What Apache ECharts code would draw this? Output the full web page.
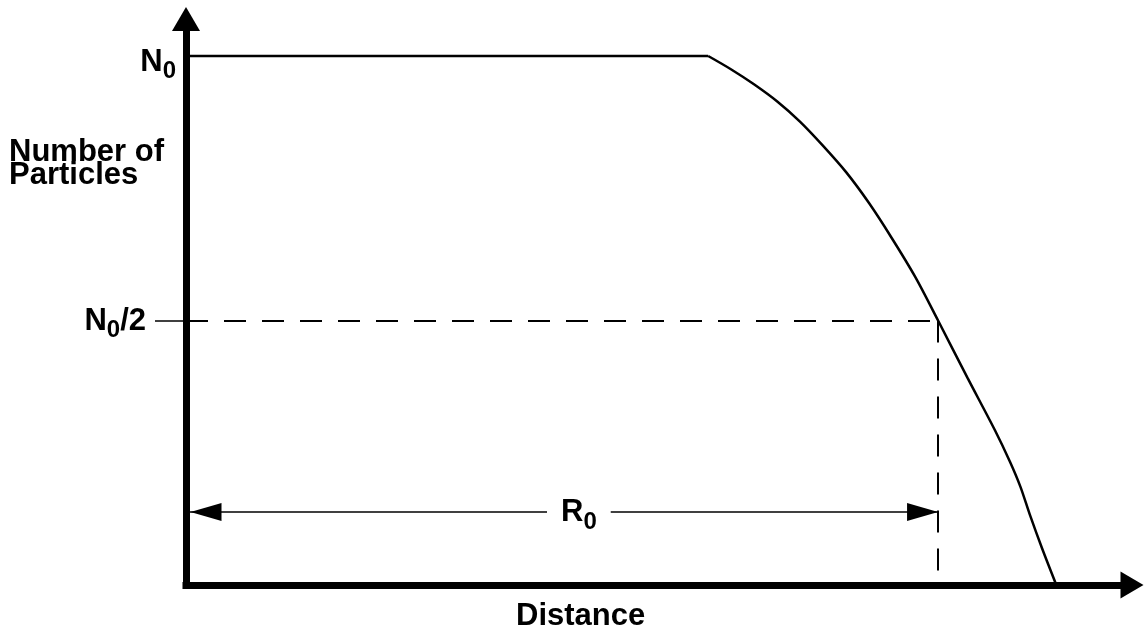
<!DOCTYPE html>
<html>
<head>
<meta charset="utf-8">
<script src="https://cdn.jsdelivr.net/npm/echarts@6/dist/echarts.min.js"></script>
<style>
  html, body { margin: 0; padding: 0; background: #fff; }
  #chart { width: 1146px; height: 632px; }
</style>
</head>
<body>
<div id="chart"></div>
<script>
var N0 = 100;          // full particle count
var HALF = 50;         // N0/2
var R0 = 79.5;         // range where half the particles remain
var ARROW_Y = 13.8;    // height of the R0 dimension arrow

// curve: distance, number of particles
// first two points are the flat plateau, the rest is the fall-off
var distance = [0, 55.2, 57.6, 60.0, 62.5, 64.9, 67.3, 69.8, 72.2, 74.6, 77.1, 79.5, 82.6, 85.5, 87.1, 88.2, 89.2, 90.5, 92.0];
var particles = [100, 100, 97.5, 94.7, 91.4, 87.6, 83.1, 78.0, 72.2, 65.6, 58.2, 50, 39.2, 29.3, 23.3, 18.6, 13.3, 6.9, 0];

var yLabelValues = [HALF, N0];

var points = distance.map(function (d, i) { return [d, particles[i]]; });
var plateau = points.slice(0, 2);
var falloff = points.slice(1);

var font = 'Liberation Sans, Arial, sans-serif';
var subRich = {
    n: { fontSize: 31, fontWeight: 'bold', fontFamily: font, color: '#000', lineHeight: 30, verticalAlign: 'top' },
    s: { fontSize: 24, fontWeight: 'bold', fontFamily: font, color: '#000', lineHeight: 24, padding: [13, 0, 0, 0], verticalAlign: 'top' },
    // same, pushed down a little (top label sits below its line)
    nb: { fontSize: 31, fontWeight: 'bold', fontFamily: font, color: '#000', lineHeight: 30, padding: [6, 0, 0, 0], verticalAlign: 'top' },
    sb: { fontSize: 24, fontWeight: 'bold', fontFamily: font, color: '#000', lineHeight: 24, padding: [18, 0, 0, 0], verticalAlign: 'top' },
    gap: { width: 30 }
};

var myChart = echarts.init(document.getElementById('chart'));

option = {
    animation: false,
    backgroundColor: '#fff',
    title: [{
        text: 'Number of\nParticles',
        left: 9,
        top: 141,
        padding: 0,
        textStyle: { fontSize: 31, fontWeight: 'bold', fontFamily: font, color: '#000', lineHeight: 23 }
    }, {
        text: 'Distance',
        left: 516,
        top: 601,
        padding: 0,
        textStyle: { fontSize: 31, fontWeight: 'bold', fontFamily: font, color: '#000' }
    }, {
        text: '{n|R}{s|0}',
        left: 547,
        top: 495,
        backgroundColor: '#fff',
        padding: [2, 14, 2, 14],
        textStyle: { rich: subRich }
    }],
    grid: {
        left: 186,
        right: 14,
        top: 19,
        bottom: 47
    },
    xAxis: {
        type: 'value',
        min: 0,
        max: 100,
        splitLine: { show: false },
        axisTick: { show: false },
        axisLabel: { show: false },
        axisLine: {
            onZero: false,
            symbol: ['none', 'triangle'],
            symbolSize: [27, 23],
            lineStyle: { color: '#000', width: 7, cap: 'square' }
        }
    },
    yAxis: {
        type: 'value',
        min: 0,
        max: 107,
        splitLine: { show: false },
        axisTick: {
            show: true,
            customValues: [HALF],
            length: 31,
            lineStyle: { color: '#000', width: 1.5 }
        },
        axisLabel: {
            show: true,
            customValues: yLabelValues,
            margin: 10,
            formatter: function (v) {
                return v === N0 ? '{nb|N}{sb|0}' : '{n|N}{s|0}{n|/2}{gap|}';
            },
            rich: subRich
        },
        axisLine: {
            onZero: false,
            symbol: ['none', 'triangle'],
            symbolSize: [28, 24],
            lineStyle: { color: '#000', width: 7, cap: 'square' }
        }
    },
    series: [{
        type: 'line',
        data: plateau,
        showSymbol: false,
        lineStyle: { color: '#000', width: 2.5 },
        z: 3
    }, {
        type: 'line',
        data: falloff,
        showSymbol: false,
        smooth: 0.3,
        lineStyle: { color: '#000', width: 2.5 },
        z: 3,
        markLine: {
            silent: true,
            symbol: ['none', 'none'],
            symbolSize: [18, 31],
            symbolOffset: [[0, 20], [0, '50%']],
            label: { show: false },
            data: [
                [{ coord: [0, HALF], lineStyle: { color: '#000', width: 2, type: [22, 16] } }, { coord: [R0, HALF] }],
                [{ coord: [R0, HALF], lineStyle: { color: '#000', width: 2, type: [22, 16] } }, { coord: [R0, 0] }],
                [{ coord: [0, ARROW_Y], symbol: 'triangle', lineStyle: { color: '#000', width: 1.5, type: 'solid' } },
                 { coord: [R0, ARROW_Y], symbol: 'triangle' }]
            ]
        }
    }]
};
myChart.setOption(option);
</script>
</body>
</html>
